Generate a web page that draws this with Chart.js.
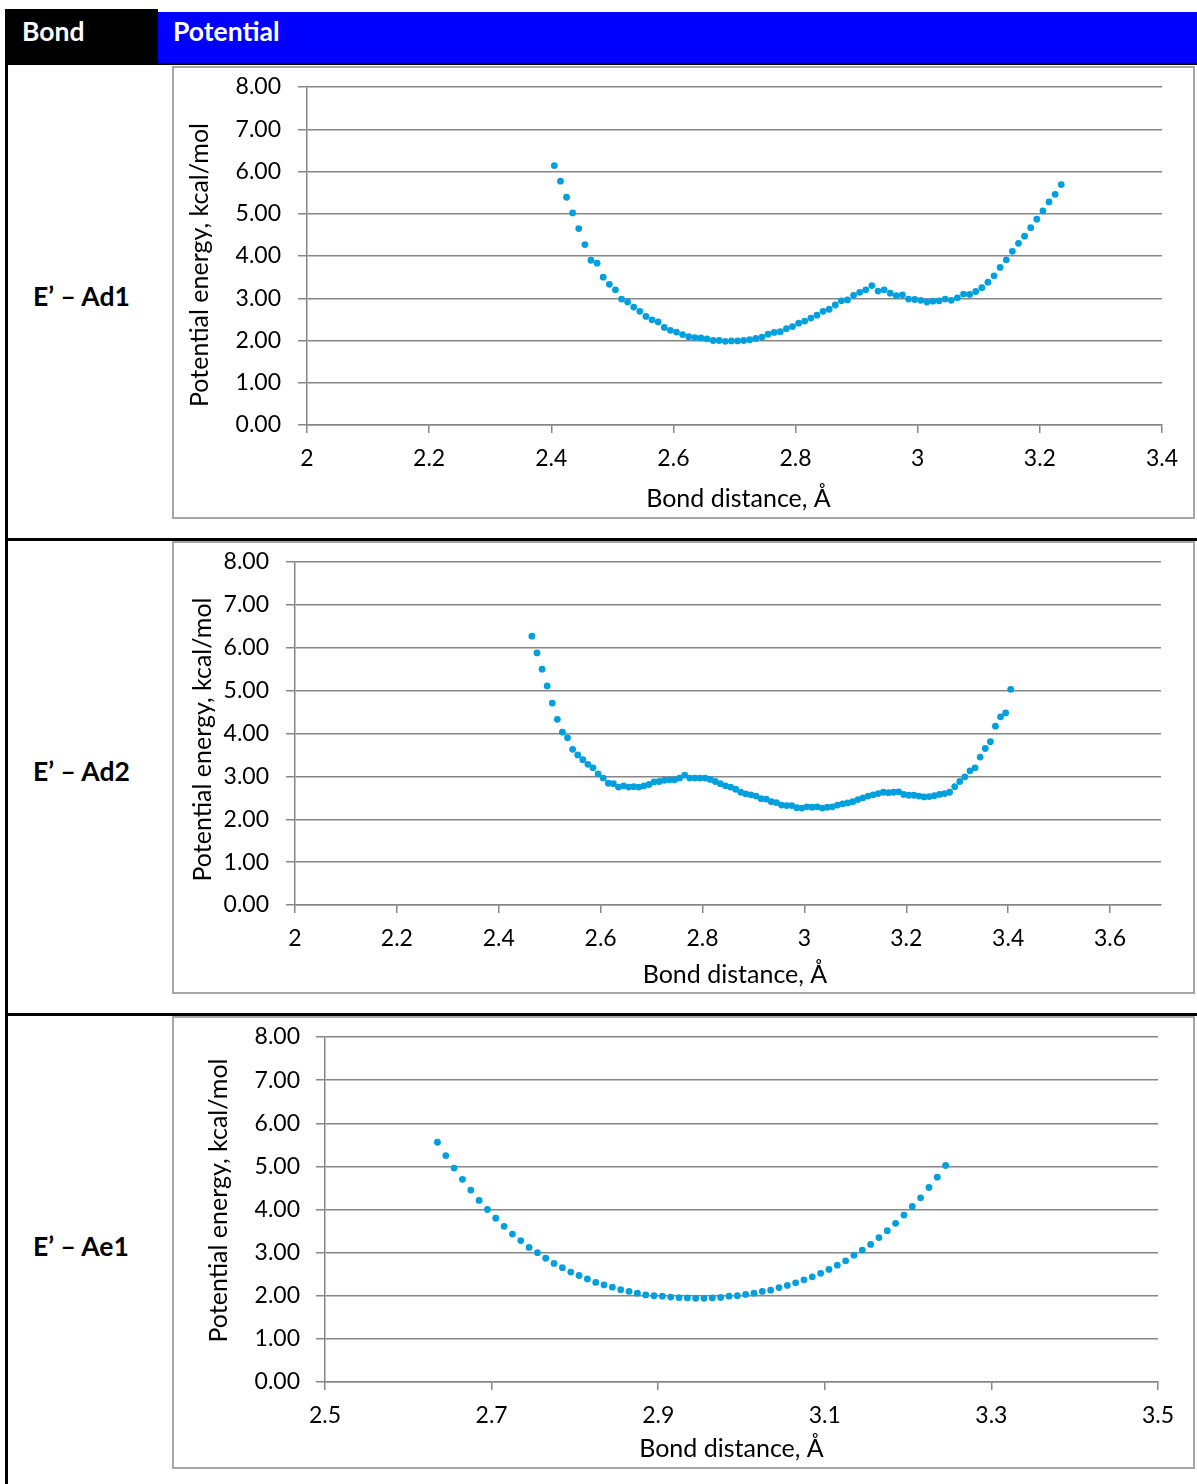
<!DOCTYPE html>
<html>
<head>
<meta charset="utf-8">
<title>Bond potentials</title>
<script src="https://cdn.jsdelivr.net/npm/chart.js@4.4.1/dist/chart.umd.min.js"></script>
<style>
    html, body { margin: 0; padding: 0; background: #fff; }
    body { position: relative; width: 1197px; height: 1484px; overflow: hidden; font-family: Lato, "Open Sans", sans-serif; }
    .abs { position: absolute; }
    .head-bond { left: 5px; top: 9px; width: 153px; height: 56px; background: #000; color: #fff; font-weight: bold; font-size: 26.5px; line-height: 45px; padding-left: 17px; box-sizing: border-box; }
    .head-pot { left: 158px; top: 12px; width: 1039px; height: 51px; background: #0000ff; color: #fff; font-weight: bold; font-size: 26.5px; line-height: 39px; padding-left: 15px; box-sizing: border-box; }
    .black { background: #000; }
    .row-label { left: 33px; font-weight: bold; font-size: 26.5px; line-height: 30px; color: #000; white-space: nowrap; }
    .frame { left: 172px; width: 1023px; height: 453px; border: 2px solid #a6a6a6; box-sizing: border-box; }
    canvas.plot { position: absolute; left: 173px; }
</style>
</head>
<body>

<div class="abs head-bond">Bond</div>
<div class="abs head-pot">Potential</div>
<div class="abs black" style="left:158px; top:63px; width:1039px; height:2px;"></div>
<div class="abs black" style="left:5px; top:9px; width:3px; height:1475px;"></div>
<div class="abs black" style="left:5px; top:538px; width:1192px; height:3px;"></div>
<div class="abs black" style="left:5px; top:1013px; width:1192px; height:3px;"></div>

<div class="abs row-label" style="top:281px;">E’ – Ad1</div>
<div class="abs row-label" style="top:756px;">E’ – Ad2</div>
<div class="abs row-label" style="top:1231px;">E’ – Ae1</div>

<div class="abs frame" style="top:66px;"></div>
<div class="abs frame" style="top:541px;"></div>
<div class="abs frame" style="top:1016px;"></div>

<canvas id="chartAd1" class="plot" width="1021" height="451" style="top:67px;"></canvas>
<canvas id="chartAd2" class="plot" width="1021" height="451" style="top:542px;"></canvas>
<canvas id="chartAe1" class="plot" width="1021" height="451" style="top:1017px;"></canvas>

<script>
// E' - Ad1 scan
const ad1Distance = [
    2.405, 2.415, 2.425, 2.435, 2.445, 2.455, 2.465, 2.475, 2.485, 2.495,
    2.505, 2.515, 2.525, 2.535, 2.545, 2.555, 2.565, 2.575, 2.585, 2.595,
    2.605, 2.615, 2.625, 2.635, 2.645, 2.655, 2.665, 2.675, 2.685, 2.695,
    2.705, 2.715, 2.725, 2.735, 2.745, 2.755, 2.765, 2.775, 2.785, 2.795,
    2.805, 2.815, 2.825, 2.835, 2.845, 2.855, 2.865, 2.875, 2.885, 2.895,
    2.905, 2.915, 2.925, 2.935, 2.945, 2.955, 2.965, 2.975, 2.985, 2.995,
    3.005, 3.015, 3.025, 3.035, 3.045, 3.055, 3.065, 3.075, 3.085, 3.095,
    3.105, 3.115, 3.125, 3.135, 3.145, 3.155, 3.165, 3.175, 3.185, 3.195,
    3.205, 3.215, 3.225, 3.235
];
const ad1Energy = [
    6.14, 5.77, 5.39, 5.02, 4.65, 4.27, 3.90, 3.83, 3.50, 3.33,
    3.20, 2.98, 2.91, 2.79, 2.69, 2.57, 2.49, 2.44, 2.31, 2.24,
    2.20, 2.14, 2.09, 2.07, 2.06, 2.04, 2.00, 2.00, 1.98, 1.99,
    1.99, 2.00, 2.02, 2.05, 2.08, 2.15, 2.19, 2.21, 2.28, 2.33,
    2.41, 2.46, 2.53, 2.60, 2.69, 2.74, 2.84, 2.94, 2.96, 3.07,
    3.14, 3.20, 3.30, 3.17, 3.20, 3.12, 3.06, 3.08, 2.98, 2.97,
    2.95, 2.91, 2.93, 2.94, 2.98, 2.95, 3.01, 3.10, 3.09, 3.16,
    3.25, 3.38, 3.53, 3.73, 3.91, 4.11, 4.30, 4.47, 4.67, 4.87,
    5.07, 5.28, 5.46, 5.69
];

// E' - Ad2 scan
const ad2Distance = [
    2.465, 2.475, 2.485, 2.495, 2.505, 2.515, 2.525, 2.535, 2.545, 2.555,
    2.565, 2.575, 2.585, 2.595, 2.605, 2.615, 2.625, 2.635, 2.645, 2.655,
    2.665, 2.675, 2.685, 2.695, 2.705, 2.715, 2.725, 2.735, 2.745, 2.755,
    2.765, 2.775, 2.785, 2.795, 2.805, 2.815, 2.825, 2.835, 2.845, 2.855,
    2.865, 2.875, 2.885, 2.895, 2.905, 2.915, 2.925, 2.935, 2.945, 2.955,
    2.965, 2.975, 2.985, 2.995, 3.005, 3.015, 3.025, 3.035, 3.045, 3.055,
    3.065, 3.075, 3.085, 3.095, 3.105, 3.115, 3.125, 3.135, 3.145, 3.155,
    3.165, 3.175, 3.185, 3.195, 3.205, 3.215, 3.225, 3.235, 3.245, 3.255,
    3.265, 3.275, 3.285, 3.295, 3.305, 3.315, 3.325, 3.335, 3.345, 3.355,
    3.365, 3.375, 3.385, 3.395, 3.405
];
const ad2Energy = [
    6.27, 5.88, 5.50, 5.11, 4.71, 4.33, 4.03, 3.90, 3.63, 3.50,
    3.39, 3.28, 3.20, 3.06, 2.96, 2.84, 2.83, 2.75, 2.78, 2.75,
    2.76, 2.75, 2.78, 2.81, 2.87, 2.88, 2.91, 2.92, 2.92, 2.96,
    3.03, 2.96, 2.96, 2.96, 2.96, 2.93, 2.88, 2.83, 2.78, 2.75,
    2.70, 2.63, 2.59, 2.57, 2.54, 2.48, 2.47, 2.41, 2.39, 2.33,
    2.32, 2.32, 2.27, 2.26, 2.29, 2.28, 2.29, 2.26, 2.28, 2.29,
    2.33, 2.36, 2.38, 2.41, 2.46, 2.50, 2.54, 2.57, 2.60, 2.63,
    2.62, 2.63, 2.64, 2.58, 2.56, 2.56, 2.54, 2.52, 2.53, 2.55,
    2.58, 2.60, 2.63, 2.76, 2.88, 2.99, 3.13, 3.20, 3.45, 3.65,
    3.81, 4.17, 4.39, 4.48, 5.03
];

// E' - Ae1 scan
const ae1Distance = [
    2.635, 2.645, 2.655, 2.665, 2.675, 2.685, 2.695, 2.705, 2.715, 2.725,
    2.735, 2.745, 2.755, 2.765, 2.775, 2.785, 2.795, 2.805, 2.815, 2.825,
    2.835, 2.845, 2.855, 2.865, 2.875, 2.885, 2.895, 2.905, 2.915, 2.925,
    2.935, 2.945, 2.955, 2.965, 2.975, 2.985, 2.995, 3.005, 3.015, 3.025,
    3.035, 3.045, 3.055, 3.065, 3.075, 3.085, 3.095, 3.105, 3.115, 3.125,
    3.135, 3.145, 3.155, 3.165, 3.175, 3.185, 3.195, 3.205, 3.215, 3.225,
    3.235, 3.245
];
const ae1Energy = [
    5.56, 5.25, 4.96, 4.70, 4.45, 4.21, 4.00, 3.80, 3.61, 3.43,
    3.28, 3.12, 3.00, 2.87, 2.75, 2.65, 2.55, 2.47, 2.39, 2.31,
    2.25, 2.20, 2.14, 2.10, 2.06, 2.02, 2.00, 1.99, 1.97, 1.955,
    1.95, 1.94, 1.94, 1.95, 1.96, 1.99, 2.00, 2.03, 2.06, 2.10,
    2.13, 2.19, 2.24, 2.30, 2.37, 2.44, 2.52, 2.61, 2.71, 2.81,
    2.94, 3.06, 3.19, 3.35, 3.51, 3.68, 3.87, 4.07, 4.27, 4.51,
    4.75, 5.02
];

const xTitle = 'Bond distance, Å';
const yTitle = 'Potential energy, kcal/mol';

const pointColor = 'rgb(0, 160, 222)';
const axisColor = '#868686';
const tickFont = { family: 'Lato', size: 23 };
const titleFont = { family: 'Lato', size: 25 };

function buildPoints(distance, energy) {
    return distance.map((d, i) => ({ x: d, y: energy[i] }));
}

// Excel does not centre the axis titles exactly on the plot area, so nudge them
function shiftTitle(scale, dx, dy) {
    if (scale._titleShifted) return;
    const baseDrawTitle = scale.drawTitle;
    scale.drawTitle = function() {
        this.ctx.save();
        this.ctx.translate(dx, dy);
        baseDrawTitle.call(this);
        this.ctx.restore();
    };
    scale._titleShifted = true;
}

function drawPotentialChart(canvasId, distance, energy, xAxis, box) {
    const ctx = document.getElementById(canvasId).getContext('2d');

    return new Chart(ctx, {
        type: 'scatter',
        data: {
            datasets: [{
                data: buildPoints(distance, energy),
                backgroundColor: pointColor,
                borderWidth: 0,
                pointRadius: 3.4,
                pointHoverRadius: 3.4
            }]
        },
        options: {
            responsive: false,
            animation: false,
            devicePixelRatio: 1,
            events: [],
            layout: { padding: { top: 20, right: box.right, bottom: 0, left: 0 } },
            plugins: {
                legend: { display: false },
                tooltip: { enabled: false }
            },
            scales: {
                x: {
                    type: 'linear',
                    min: xAxis.min,
                    max: xAxis.max,
                    bounds: 'data',
                    // keep only ticks on the step grid (no extra tick at the axis end)
                    afterBuildTicks: scale => {
                        scale.ticks = scale.ticks.filter(t => {
                            const k = (t.value - xAxis.min) / xAxis.step;
                            return Math.abs(k - Math.round(k)) < 1e-6;
                        });
                    },
                    afterFit: scale => {
                        scale.height = box.xHeight;
                        scale.paddingLeft = 0;
                        scale.paddingRight = 0;
                        shiftTitle(scale, box.xTitleShift, 0);
                    },
                    border: { display: true, color: axisColor, width: 1.5 },
                    grid: { drawOnChartArea: false, drawTicks: true, tickLength: 8, color: axisColor, lineWidth: 1.5 },
                    ticks: {
                        stepSize: xAxis.step,
                        includeBounds: false,
                        autoSkip: false,
                        maxRotation: 0,
                        padding: 12,
                        color: '#000',
                        font: tickFont,
                        callback: v => String(Math.round(v * 10) / 10)
                    },
                    title: { display: true, text: xTitle, color: '#000', font: titleFont, padding: { top: 0, bottom: box.xTitlePad } }
                },
                y: {
                    type: 'linear',
                    min: 0,
                    max: 8,
                    afterFit: scale => {
                        scale.width = box.yWidth;
                        scale.paddingTop = 0;
                        scale.paddingBottom = 0;
                        shiftTitle(scale, 0, box.yTitleShift);
                    },
                    border: { display: true, color: axisColor, width: 1.5 },
                    grid: { drawTicks: true, tickLength: 9, color: axisColor, lineWidth: 1.5 },
                    ticks: {
                        stepSize: 1,
                        padding: box.yTickPad,
                        color: '#000',
                        font: tickFont,
                        callback: v => v.toFixed(2)
                    },
                    title: { display: true, text: yTitle, color: '#000', font: titleFont, padding: { top: box.yTitlePad, bottom: 0 } }
                }
            }
        }
    });
}

document.addEventListener('DOMContentLoaded', function() {
    drawPotentialChart('chartAd1', ad1Distance, ad1Energy,
        { min: 2, max: 3.4, step: 0.2 },
        { yWidth: 134, xHeight: 93, right: 32, yTickPad: 17, yTitlePad: 12, xTitlePad: 4, xTitleShift: 4, yTitleShift: 9 });

    drawPotentialChart('chartAd2', ad2Distance, ad2Energy,
        { min: 2, max: 3.7, step: 0.2 },
        { yWidth: 122, xHeight: 88, right: 33, yTickPad: 17, yTitlePad: 15, xTitlePad: 3, xTitleShift: 7, yTitleShift: 6 });

    drawPotentialChart('chartAe1', ae1Distance, ae1Energy,
        { min: 2.5, max: 3.5, step: 0.2 },
        { yWidth: 152, xHeight: 86, right: 36, yTickPad: 16, yTitlePad: 31, xTitlePad: 4, xTitleShift: -10, yTitleShift: -9 });
});
</script>
</body>
</html>
